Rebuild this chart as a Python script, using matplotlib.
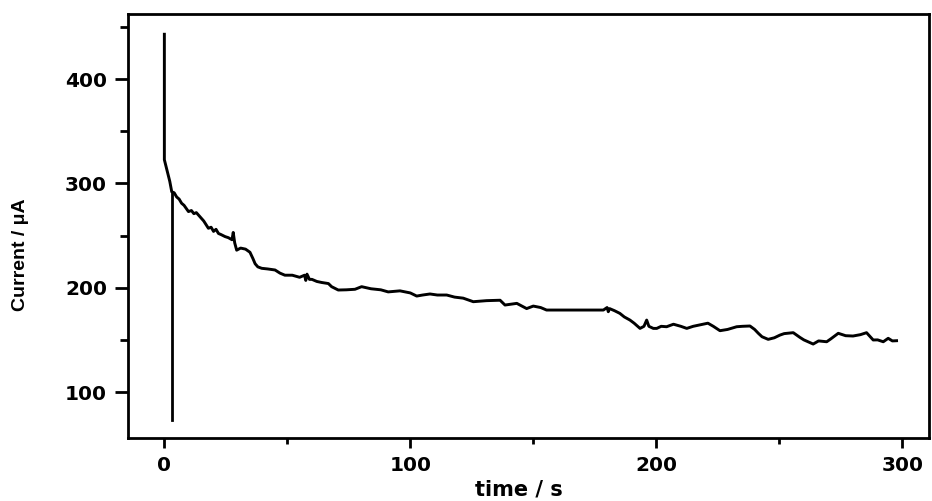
import matplotlib
matplotlib.use("Agg")
import matplotlib.pyplot as plt
from matplotlib.ticker import MultipleLocator

plt.rcParams['font.family'] = ['DejaVu Sans']

# chronoamperometry trace (time / s, current / uA)
time_s = [0, 0, 0.7, 1.4, 2.2, 3.0, 4, 5, 6, 7, 8, 9.8, 11, 12, 13, 14.5, 16, 17.9, 19, 20,
          21, 22, 23, 24.7, 26, 27.5, 28, 28.6, 29.4, 31, 33, 34.8, 36, 36.9, 38, 39.6, 42, 45,
          47, 49, 52, 55, 57, 57.5, 58, 59, 60, 62, 64, 66.7, 68, 70.7, 74, 77.5, 80.2, 84, 88,
          91, 95.8, 100, 102.6, 105, 108, 111, 114.8, 118, 121.5, 125.6, 128, 131, 136.5, 138.5,
          143.3, 147.3, 150, 153, 155.4, 178.5, 180, 180.5, 181, 183, 185.2, 187, 189.3, 191,
          193.4, 195, 196.1, 197, 198.8, 200.2, 202, 204.2, 207, 210, 212.4, 215, 219, 221,
          223.2, 225.9, 229, 232.7, 235, 238.1, 240, 241.5, 243, 245.5, 248, 250.3, 252, 255.7,
          258.4, 260, 263.8, 266, 269.3, 271, 274, 277, 280, 283, 285.5, 288.2, 290, 292.3,
          294.3, 296, 297.7]
current_uA = [443, 322.7, 316, 309.7, 302, 292, 291, 287, 285, 281, 279, 273, 274, 271, 272,
              268, 264, 257, 258, 254, 256, 252, 251, 249, 248, 246, 253, 243, 236, 238, 237,
              234, 228, 223, 220, 218.6, 218, 217, 214, 212, 212, 210, 212, 207, 213, 208, 208,
              206, 205, 204, 201, 197.8, 198, 198.5, 201, 199, 198, 196, 197, 195, 192, 193,
              194, 193, 193, 191, 190, 186.6, 187, 187.6, 188, 183.4, 185, 180, 182.4, 181,
              178.6, 178.6, 181, 177, 180, 178, 175.4, 172, 169, 166, 161, 163, 169, 163, 161,
              161, 163, 162.6, 165, 163, 161, 163, 165, 166, 163, 158.8, 160, 162.6, 163, 163.3,
              160, 156.3, 153, 150.5, 152, 154.6, 156, 156.9, 152.4, 150, 146, 149, 148.2, 151,
              156.3, 154, 153.7, 155, 156.9, 149.9, 150, 148.2, 151.5, 149, 149.2]

# vertical step line near t = 3 s
drop_t = [3.0, 3.0]
drop_v = [73, 292]

x_ticks = [0, 100, 200, 300]
y_ticks = [100, 200, 300, 400]

fig = plt.figure(figsize=(9.32, 5.01), dpi=100)
ax = fig.add_axes([0.1373, 0.1257, 0.8595, 0.8463])

ax.plot(time_s, current_uA, color='black', lw=2.1)
ax.plot(drop_t, drop_v, color='black', lw=2.0)

ax.set_xlim(-14.8, 310.9)
ax.set_ylim(55.9, 462.4)
ax.set_xticks(x_ticks)
ax.set_yticks(y_ticks)
ax.xaxis.set_minor_locator(MultipleLocator(50))
ax.yaxis.set_minor_locator(MultipleLocator(50))

for s in ax.spines.values():
    s.set_linewidth(2.0)

ax.tick_params(which='major', direction='out', width=2.0, labelsize=14.5)
ax.tick_params(axis='y', which='major', length=9.5, pad=5.5)
ax.tick_params(axis='x', which='major', length=7, pad=6)
ax.tick_params(axis='y', which='minor', direction='out', width=2.0, length=6)
ax.tick_params(axis='x', which='minor', direction='out', width=2.0, length=4)
for lab in ax.get_xticklabels() + ax.get_yticklabels():
    lab.set_fontweight('bold')

fig.text(0.022, 0.491, 'Current / μA', rotation=90, ha='center', va='center',
         fontsize=14, fontweight='bold', family=['Liberation Sans', 'DejaVu Sans'])
fig.text(0.557, 0.003, 'time / s', ha='center', va='bottom', fontsize=15, fontweight='bold')

fig.savefig('out.png', dpi=100)
